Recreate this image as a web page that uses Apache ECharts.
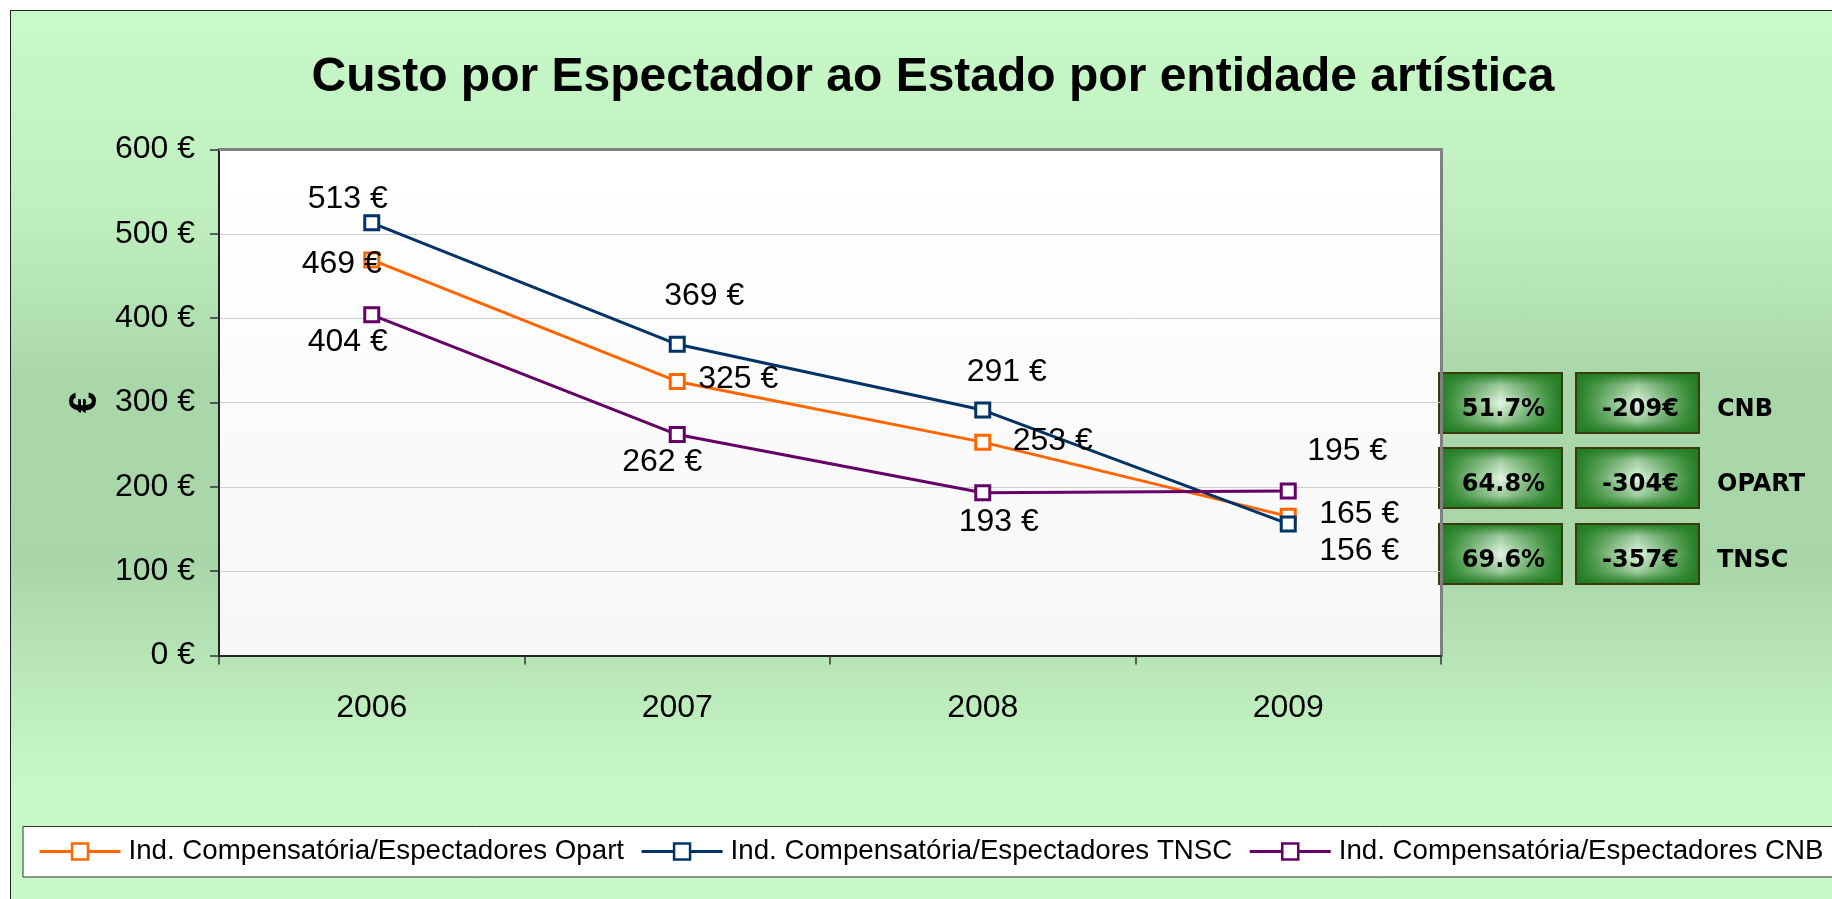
<!DOCTYPE html>
<html>
<head>
<meta charset="utf-8">
<title>Custo por Espectador ao Estado por entidade artística</title>
<script src="https://cdn.jsdelivr.net/npm/echarts@6/dist/echarts.min.js"></script>
<style>
  html, body { margin: 0; padding: 0; width: 1832px; height: 899px; overflow: hidden; background: #fff; }
  /* fundo verde da folha, com o contorno escuro em cima e à esquerda */
  #bg {
    position: absolute; left: 10px; top: 10px; width: 1900px; height: 900px;
    border: 1px solid #222;
    background: linear-gradient(to bottom, #c8f9c8 0%, #bfefbf 22%, #a9d7a9 41%, #a9d6a9 61%, #c8f8c8 86%, #c8f8c8 100%);
  }
  #main { position: absolute; left: 0; top: 0; width: 1832px; height: 899px; }
</style>
</head>
<body>
<div id="bg"></div>
<div id="main"></div>
<script>
// dados
const years = ['2006', '2007', '2008', '2009'];
const opart = [469, 325, 253, 165];
const tnsc = [513, 369, 291, 156];
const cnb = [404, 262, 193, 195];
const seriesNames = [
  'Ind. Compensatória/Espectadores Opart',
  'Ind. Compensatória/Espectadores TNSC',
  'Ind. Compensatória/Espectadores CNB',
];
// caixas verdes à direita
const boxEntities = ['CNB', 'OPART', 'TNSC'];
const boxPercent = ['51.7%', '64.8%', '69.6%'];
const boxDiff = ['-209€', '-304€', '-357€'];

const FONT = '"Liberation Sans", Arial, Helvetica, sans-serif';
const colors = ['#ff6600', '#003366', '#660066'];

// deslocamento das etiquetas (px) em relação ao marcador
const opartShift = [[-30, 4], [61, -2], [70, -1], [71, -2]];
const tnscShift = [[-24, -24], [27, -48], [24, -38], [71, 27]];
const cnbShift = [[-24, 27], [-15, 28], [16, 29], [59, -40]];

function lineSeries(name, values, color, shift) {
  return {
    name: name,
    type: 'line',
    data: values.map((v, i) => ({ value: v, label: { offset: shift[i] } })),
    symbol: 'rect',
    symbolSize: 14,
    lineStyle: { color: color, width: 3 },
    itemStyle: { color: '#fff', borderColor: color, borderWidth: 3 },
    label: {
      show: true,
      position: 'inside',
      formatter: '{c} €',
      fontSize: 32,
      fontFamily: FONT,
      color: '#000',
      textBorderWidth: 0,
    },
    emphasis: { disabled: true },
    animation: false,
  };
}

// caixas com gradiente "do centro"
const boxGraphics = [];
const boxX = [1439, 1576];
const boxY = [373, 448, 524];
const boxW = 123, boxH = 60;
function greenBox(x, y, text) {
  return {
    type: 'group',
    x: x, y: y,
    children: [
      {
        type: 'rect', shape: { x: 0, y: 0, width: boxW, height: boxH },
        style: {
          fill: { type: 'linear', x: 0, y: 0, x2: 1, y2: 0, colorStops: [
            { offset: 0, color: '#217c21' }, { offset: 0.12, color: '#4a984a' },
            { offset: 0.5, color: '#e4f6e4' },
            { offset: 0.88, color: '#4a984a' }, { offset: 1, color: '#217c21' }] },
        },
      },
      {
        type: 'rect', shape: { x: 0, y: 0, width: boxW, height: boxH },
        style: {
          fill: { type: 'linear', x: 0, y: 0, x2: 0, y2: 1, colorStops: [
            { offset: 0, color: 'rgba(33,124,33,1)' }, { offset: 0.2, color: 'rgba(33,124,33,0.35)' },
            { offset: 0.5, color: 'rgba(33,124,33,0)' },
            { offset: 0.8, color: 'rgba(33,124,33,0.35)' }, { offset: 1, color: 'rgba(33,124,33,1)' }] },
        },
      },
      {
        type: 'rect', shape: { x: 0, y: 0, width: boxW, height: boxH },
        style: { fill: 'none', stroke: '#3a3a0c', lineWidth: 2 },
      },
      {
        type: 'text', x: boxW / 2 + 3, y: boxH / 2 + 7,
        style: { text: text, fontSize: 24, fontWeight: 'bold', fontFamily: '"DejaVu Sans", Verdana, sans-serif', fill: '#000', align: 'center', verticalAlign: 'middle' },
      },
    ],
  };
}
for (let i = 0; i < boxEntities.length; i++) {
  boxGraphics.push(greenBox(boxX[0], boxY[i], boxPercent[i]));
  boxGraphics.push(greenBox(boxX[1], boxY[i], boxDiff[i]));
  boxGraphics.push({
    type: 'text', x: 1717, y: boxY[i] + boxH / 2 + 7,
    style: { text: boxEntities[i], fontSize: 24, fontWeight: 'bold', fontFamily: '"DejaVu Sans", Verdana, sans-serif', fill: '#000', align: 'left', verticalAlign: 'middle' },
  });
}

const chart = echarts.init(document.getElementById('main'));
chart.setOption({
  backgroundColor: 'transparent',
  animation: false,
  graphic: [
    {
      type: 'text', x: 933, y: 78,
      style: { text: 'Custo por Espectador ao Estado por entidade artística', fontSize: 48, fontWeight: 'bold', fontFamily: FONT, fill: '#000', align: 'center', verticalAlign: 'middle' },
    },
    {
      type: 'rect', shape: { x: 23, y: 826.5, width: 1900, height: 50.5 },
      style: { fill: '#fff', stroke: '#333', lineWidth: 1 },
    },
  ].concat(boxGraphics),
  grid: {
    left: 219, top: 149.5, width: 1222, height: 506,
    show: true, borderWidth: 0,
    backgroundColor: { type: 'linear', x: 0, y: 0, x2: 0, y2: 1, colorStops: [
      { offset: 0, color: '#ffffff' }, { offset: 1, color: '#f7f7f7' }] },
    containLabel: false,
    outerBoundsMode: 'none',
  },
  legend: {
    left: 33, top: 832.5, width: 2400,
    itemWidth: 81, itemHeight: 20, itemGap: 16,
    selectedMode: false,
    textStyle: { fontSize: 27.7, fontFamily: FONT, color: '#000', padding: [0, 0, 0, 3] },
    data: seriesNames.map((n, i) => ({
      name: n,
      itemStyle: { color: '#fff', borderColor: colors[i], borderWidth: 2.5 },
      lineStyle: { color: colors[i], width: 3 },
    })),
  },
  xAxis: [
    {
      type: 'category', data: years, boundaryGap: true,
      axisLine: { onZero: false, lineStyle: { color: '#222', width: 2 } },
      axisTick: { show: true, length: 9, lineStyle: { color: '#333', width: 1.5 } },
      axisLabel: { fontSize: 32, fontFamily: FONT, color: '#000', margin: 37 },
      splitLine: { show: false },
    },
    {
      type: 'category', data: years, position: 'top',
      axisLine: { onZero: false, lineStyle: { color: '#808080', width: 3 } },
      axisTick: { show: false }, axisLabel: { show: false }, splitLine: { show: false },
    },
  ],
  yAxis: [
    {
      type: 'value', min: 0, max: 600, interval: 100,
      name: '€', nameLocation: 'middle', nameGap: 110, nameRotate: 90,
      nameTextStyle: { fontSize: 38, fontWeight: 'bold', fontFamily: FONT, color: '#000' },
      axisLine: { show: true, onZero: false, lineStyle: { color: '#222', width: 2 } },
      axisTick: { show: true, length: 9, lineStyle: { color: '#333', width: 1.5 } },
      axisLabel: { formatter: '{value} €', fontSize: 32, fontFamily: FONT, color: '#000', margin: 24 },
      splitLine: { lineStyle: { color: '#d0d0d0', width: 1 } },
    },
    {
      type: 'value', min: 0, max: 600, interval: 100, position: 'right',
      axisLine: { show: true, onZero: false, lineStyle: { color: '#808080', width: 3 } },
      axisTick: { show: false }, axisLabel: { show: false }, splitLine: { show: false },
    },
  ],
  series: [
    lineSeries(seriesNames[0], opart, colors[0], opartShift),
    lineSeries(seriesNames[1], tnsc, colors[1], tnscShift),
    lineSeries(seriesNames[2], cnb, colors[2], cnbShift),
  ],
});
</script>
</body>
</html>
